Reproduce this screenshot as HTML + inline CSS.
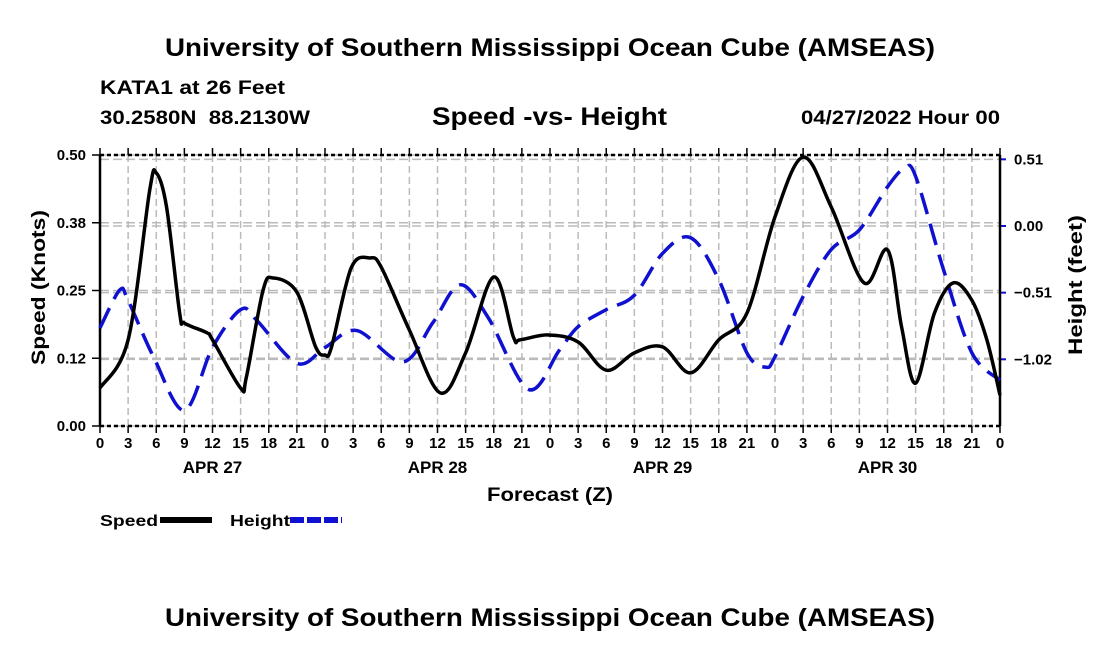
<!DOCTYPE html>
<html><head><meta charset="utf-8"><style>
body{margin:0;background:#fff;}
svg text{font-family:"Liberation Sans",Arial,sans-serif;font-weight:bold;fill:#000;}
</style></head><body>
<svg width="1100" height="650" viewBox="0 0 1100 650">
<text x="165" y="56" font-size="25" textLength="770" lengthAdjust="spacingAndGlyphs">University of Southern Mississippi Ocean Cube (AMSEAS)</text>
<text x="100" y="94" font-size="19" textLength="185" lengthAdjust="spacingAndGlyphs">KATA1 at 26 Feet</text>
<text x="100" y="124" font-size="19" textLength="210" lengthAdjust="spacingAndGlyphs" xml:space="preserve">30.2580N  88.2130W</text>
<text x="432" y="125" font-size="25" textLength="235" lengthAdjust="spacingAndGlyphs">Speed -vs- Height</text>
<text x="801" y="124" font-size="19" textLength="199" lengthAdjust="spacingAndGlyphs">04/27/2022 Hour 00</text>
<g id="grid"></g>
<g id="axes"></g>
<g id="series"></g>
<text transform="translate(45,365) rotate(-90)" font-size="19" textLength="155" lengthAdjust="spacingAndGlyphs">Speed (Knots)</text>
<text transform="translate(1082,355) rotate(-90)" font-size="19" textLength="140" lengthAdjust="spacingAndGlyphs">Height (feet)</text>
<text x="487" y="501" font-size="19" textLength="126" lengthAdjust="spacingAndGlyphs">Forecast (Z)</text>
<g>
<text x="100" y="526" font-size="16" textLength="58" lengthAdjust="spacingAndGlyphs">Speed</text>
<rect x="160" y="517" width="52" height="6" fill="#000"/>
<text x="230" y="526" font-size="16" textLength="60" lengthAdjust="spacingAndGlyphs">Height</text>
<line x1="290" y1="520" x2="342" y2="520" stroke="#1010d0" stroke-width="6" stroke-dasharray="14 3"/>
</g>
<text x="165" y="626" font-size="25" textLength="770" lengthAdjust="spacingAndGlyphs">University of Southern Mississippi Ocean Cube (AMSEAS)</text>
</svg>
<script>
const speedHours=[0,3,5.3,6,7.1,8.5,9,11.4,12,15,15.6,17.4,18.5,21,23,24,24.7,26.8,28.8,30,33,36.3,39,42,44.1,44.8,47.8,51,54,57,60,63,66,69,72,75,78,81.5,84,85.5,87,89,91,93,94.6,96];
const speedValues=[0.07,0.159,0.435,0.467,0.404,0.208,0.19,0.172,0.159,0.07,0.089,0.251,0.273,0.247,0.146,0.131,0.146,0.292,0.31,0.293,0.177,0.061,0.135,0.275,0.164,0.159,0.168,0.155,0.103,0.135,0.146,0.098,0.159,0.208,0.386,0.496,0.404,0.264,0.325,0.183,0.079,0.208,0.264,0.232,0.159,0.057];
const heightHours=[0,2.1,3,5.7,9,12,15,16.7,21,24,27.4,32.3,35.5,38.4,41.4,45.7,49,51,54,57,60,63,66,69,71,72,75,78,81,84,85.8,87,90,93,96];
const heightValues=[-0.78,-0.49,-0.57,-1.0,-1.41,-0.93,-0.64,-0.72,-1.05,-0.93,-0.80,-1.04,-0.74,-0.45,-0.70,-1.25,-0.95,-0.77,-0.64,-0.53,-0.21,-0.09,-0.41,-0.97,-1.08,-1.0,-0.54,-0.18,-0.03,0.30,0.44,0.38,-0.34,-0.97,-1.18];
const xTickLabels=["0","3","6","9","12","15","18","21"];
const dayLabels=["APR 27","APR 28","APR 29","APR 30"];
const speedTicks=[0,0.125,0.25,0.375,0.5];
const speedTickLabels=["0.00","0.12","0.25","0.38","0.50"];
const heightTicks=[0.51,0,-0.51,-1.02];
const heightTickLabels=["0.51","0.00","\u22120.51","\u22121.02"];

const NS="http://www.w3.org/2000/svg";
const L=100,R=1000,T=155,B=426;
const xs=h=>L+h*(R-L)/96;
const ys=v=>B-v/0.5*(B-T);
const yh=f=>226-f*130.7;
function mk(tag,attrs,parent){const e=document.createElementNS(NS,tag);for(const k in attrs)e.setAttribute(k,attrs[k]);parent.appendChild(e);return e;}
const grid=document.getElementById('grid'),axes=document.getElementById('axes'),series=document.getElementById('series');
for(let h=0;h<=96;h+=3){
 const l=mk('line',{x1:xs(h),x2:xs(h),y1:T,y2:B,stroke:'#bbb','stroke-width':1.5,'stroke-dasharray':'7 4'},grid);
 
 
 const t=mk('line',{x1:xs(h),x2:xs(h),y1:B,y2:B+7,stroke:'#000','stroke-width':1.5},axes);
 
 
 const tt=mk('line',{x1:xs(h),x2:xs(h),y1:T-7,y2:T,stroke:'#000','stroke-width':1.5},axes);
 
 
 const lb=mk('text',{x:xs(h),y:B+22,'font-size':15,'text-anchor':'middle'},axes);
 lb.textContent=xTickLabels[(h/3)%8];
 
 
}
dayLabels.forEach((d,i)=>{
 const t=mk('text',{x:xs(i*24+12),y:B+47,'font-size':17,'text-anchor':'middle'},axes);
 t.textContent=d;
 
 
});
speedTicks.forEach((v,i)=>{
 const g=mk('line',{x1:L,x2:R,y1:ys(v),y2:ys(v),stroke:'#bbb','stroke-width':1.5,'stroke-dasharray':'9 4'},grid);
 
 
 const t=mk('line',{x1:L-8,x2:L,y1:ys(v),y2:ys(v),stroke:'#000','stroke-width':1.5},axes);
 
 
 const lb=mk('text',{x:L-14,y:ys(v)+5,'font-size':15,'text-anchor':'end'},axes);
 lb.textContent=speedTickLabels[i];
 
 
});
heightTicks.forEach((f,i)=>{
 const g=mk('line',{x1:L,x2:R,y1:yh(f),y2:yh(f),stroke:'#bbb','stroke-width':1.5,'stroke-dasharray':'9 4'},grid);
 
 
 const t=mk('line',{x1:R,x2:R+6,y1:yh(f),y2:yh(f),stroke:'#1010d0','stroke-width':2},axes);
 
 
 const lb=mk('text',{x:R+14,y:yh(f)+5,'font-size':15},axes);
 lb.textContent=heightTickLabels[i];
 
 
});
[[L,T,R,T,'#000','4 3'],[L,B,R,B,'#000','4 3'],[L,T,L,B,'#000',''],[R,T,R,B,'#000','']].forEach(a=>{
 const e=mk('line',{x1:a[0],y1:a[1],x2:a[2],y2:a[3],stroke:a[4],'stroke-width':2.5},axes);
 if(a[5])e.setAttribute('stroke-dasharray',a[5]);
 
 
});
function smooth(pts){
 let d='M'+pts[0][0]+','+pts[0][1];
 for(let i=0;i<pts.length-1;i++){
  const p0=pts[i-1]||pts[i],p1=pts[i],p2=pts[i+1],p3=pts[i+2]||p2;
  const c1=[p1[0]+(p2[0]-p0[0])/6,p1[1]+(p2[1]-p0[1])/6];
  const c2=[p2[0]-(p3[0]-p1[0])/6,p2[1]-(p3[1]-p1[1])/6];
  d+=' C'+c1+' '+c2+' '+p2;
 }
 return d;
}
const hp=mk('path',{d:smooth(heightHours.map((h,i)=>[xs(h),yh(heightValues[i])])),fill:'none',stroke:'#1010d0','stroke-width':3.5,'stroke-dasharray':'22 10'},series);


const sp=mk('path',{d:smooth(speedHours.map((h,i)=>[xs(h),ys(speedValues[i])])),fill:'none',stroke:'#000','stroke-width':3.5},series);


</script>
</body></html>
